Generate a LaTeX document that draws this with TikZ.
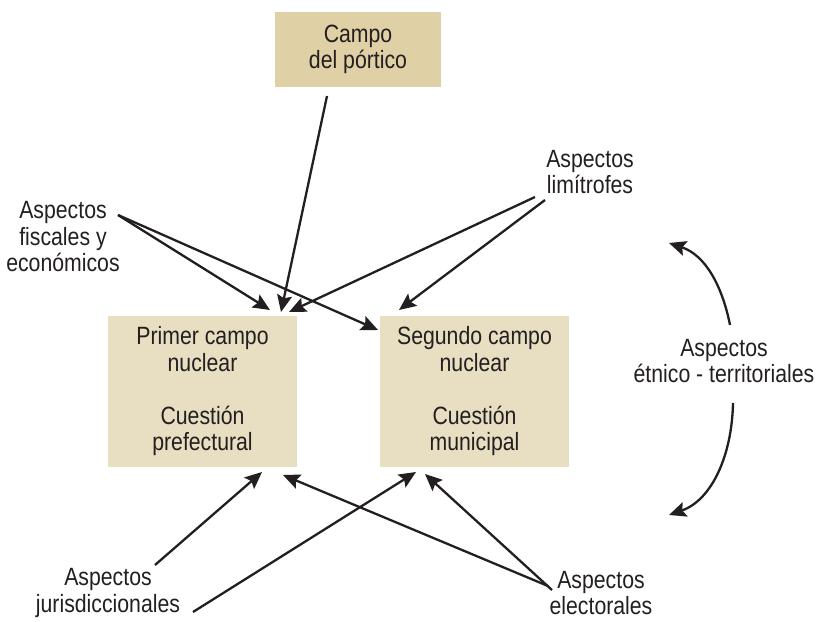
\documentclass[tikz,border=0pt]{standalone}
\usepackage{fontspec}
\setmainfont{Liberation Sans}[FakeStretch=0.85]
\usetikzlibrary{arrows.meta}
\definecolor{boxtop}{RGB}{223,208,166}
\definecolor{boxlow}{RGB}{232,222,193}
\definecolor{ink}{RGB}{35,31,32}
\begin{document}
\begin{tikzpicture}[x=1pt,y=-1pt,
  lbl/.style={align=center,text=ink,font=\fontsize{25}{26.5}\selectfont,inner sep=0pt},
  boxnode/.style={lbl,minimum width=189pt,minimum height=151pt,fill=boxlow},
  conn/.style={draw=ink,line width=2.3pt,-{Stealth[length=17pt,width=15pt,inset=3pt]}}]
\useasboundingbox (0,0) rectangle (819,621);
\node[lbl,fill=boxtop,minimum width=166pt,minimum height=75pt] (por) at (358,49.5) {Campo\\del pórtico};
\node[boxnode] (b1) at (202.5,391.5) {Primer campo\\nuclear\\[26.5pt]Cuestión\\prefectural};
\node[boxnode] (b2) at (474.5,391.5) {Segundo campo\\nuclear\\[26.5pt]Cuestión\\municipal};
\node[lbl] (fisc) at (63,237) {Aspectos\\fiscales y\\económicos};
\node[lbl] (limi) at (590,172) {Aspectos\\limítrofes};
\node[lbl] (etn) at (724,361) {Aspectos\\étnico - territoriales};
\node[lbl] (juris) at (108,593) {Aspectos\\jurisdiccionales};
\node[lbl] (elec) at (601,593) {Aspectos\\electorales};
% endpoints
\coordinate (porS) at (327,96);
\coordinate (b1a) at (281,312);
\coordinate (fiscS) at (118,215);
\coordinate (b1b) at (270,310);
\coordinate (b2a) at (378,330);
\coordinate (limS1) at (535,197);
\coordinate (limS2) at (545,200);
\coordinate (b1c) at (289,312);
\coordinate (b2b) at (399,310);
\coordinate (etnT) at (730,325);
\coordinate (etnB) at (733,403);
\coordinate (upE) at (669,243);
\coordinate (dnE) at (669,515);
\coordinate (jurS1) at (155,565);
\coordinate (jurS2) at (193,612);
\coordinate (b1d) at (262,472);
\coordinate (b2c) at (416,472);
\coordinate (elS1) at (548,586);
\coordinate (elS2) at (552,590);
\coordinate (b1e) at (283,475);
\coordinate (b2d) at (425,474);
\draw[conn] (porS) -- (b1a);
\draw[conn] (fiscS) -- (b1b);
\draw[conn] (fiscS) -- (b2a);
\draw[conn] (limS1) -- (b1c);
\draw[conn] (limS2) -- (b2b);
\draw[conn] (etnT) .. controls (722,285) and (705,255) .. (upE);
\draw[conn] (etnB) .. controls (732,455) and (712,500) .. (dnE);
\draw[conn] (jurS1) -- (b1d);
\draw[conn] (jurS2) -- (b2c);
\draw[conn] (elS1) -- (b1e);
\draw[conn] (elS2) -- (b2d);
\end{tikzpicture}
\end{document}
